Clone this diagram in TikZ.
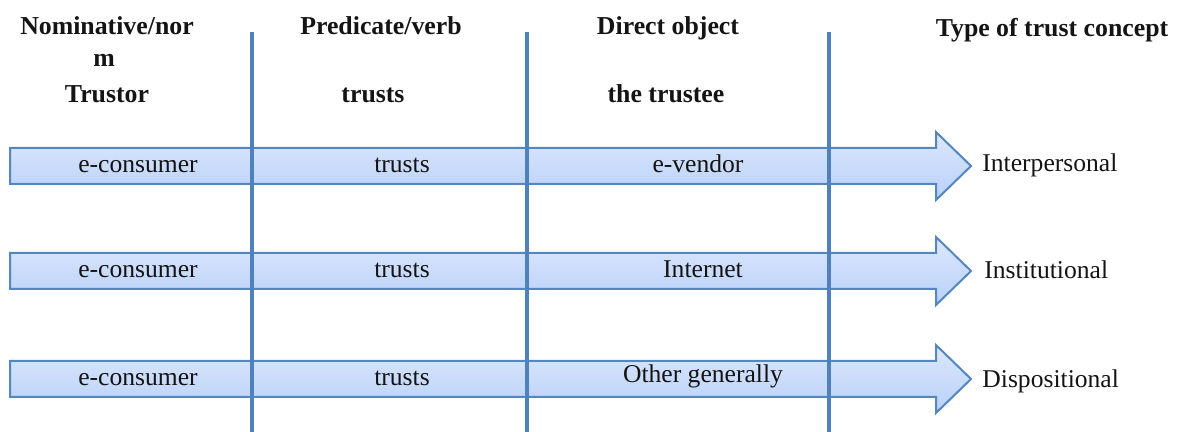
\documentclass[tikz,border=0pt]{standalone}
\usepackage{fontspec}
\setmainfont{Liberation Serif}
\usetikzlibrary{positioning}
\definecolor{bArrow}{RGB}{84,134,192}
\definecolor{bRule}{RGB}{79,129,189}
\definecolor{cArrowTop}{RGB}{220,232,252}
\definecolor{cArrowBot}{RGB}{184,208,249}
\definecolor{tDark}{RGB}{20,20,20}

\begin{document}
\begin{tikzpicture}[
    x=0.5pt, y=-0.5pt,
    font=\fontsize{12.8}{15}\selectfont,
    head/.style={font=\fontsize{12.9}{15}\selectfont\bfseries, anchor=base, inner sep=0pt, text=tDark},
    cell/.style={inner sep=0pt, anchor=base, text=tDark},
    kind/.style={inner sep=0pt, anchor=base west, text=tDark},
    band/.style={draw=bArrow, line width=1pt, line join=miter, top color=cArrowTop, bottom color=cArrowBot},
    divider/.style={draw=bRule, line width=2pt}
]
\useasboundingbox (0,0) rectangle (1178,432);

% headers
\node[head] (hNom) at (107,35) {Nominative/nor};
\node[head] (hNomEnd) at (104,67) {m};
\node[head] (hTrustor) at (107,103) {Trustor};
\node[head] (hPred) at (381,35) {Predicate/verb};
\node[head] (hTrusts) at (373,103) {trusts};
\node[head] (hObj) at (668,35) {Direct object};
\node[head] (hTrustee) at (666,103) {the trustee};
\node[head] (hType) at (1052,37) {Type of trust concept};

% arrows
\foreach \y in {166,271,379} {
    \path[band] (10,\y-18) -- (936,\y-18) -- (936,\y-34) -- (971,\y)
        -- (936,\y+34) -- (936,\y+18) -- (10,\y+18) -- cycle;
}

% row 1
\node[cell] (who1) at (138,173) {e-consumer};
\node[cell] (verb1) at (402,173) {trusts};
\node[cell] (obj1) at (698,173) {e-vendor};
\node[kind] (type1) at (982,172) {Interpersonal};

% row 2
\node[cell] (who2) at (138,278) {e-consumer};
\node[cell] (verb2) at (402,278) {trusts};
\node[cell] (obj2) at (703,278) {Internet};
\node[kind] (type2) at (984,279) {Institutional};

% row 3
\node[cell] (who3) at (138,386) {e-consumer};
\node[cell] (verb3) at (402,386) {trusts};
\node[cell] (obj3) at (703,383) {Other generally};
\node[kind] (type3) at (982,388) {Dispositional};

% column rules
\foreach \x [count=\i] in {252,527,829} {
    \coordinate (ruleTop\i) at (\x,32);
    \coordinate (ruleBot\i) at (\x,432);
    \draw[divider] (ruleTop\i) -- (ruleBot\i);
}

\end{tikzpicture}
\end{document}
